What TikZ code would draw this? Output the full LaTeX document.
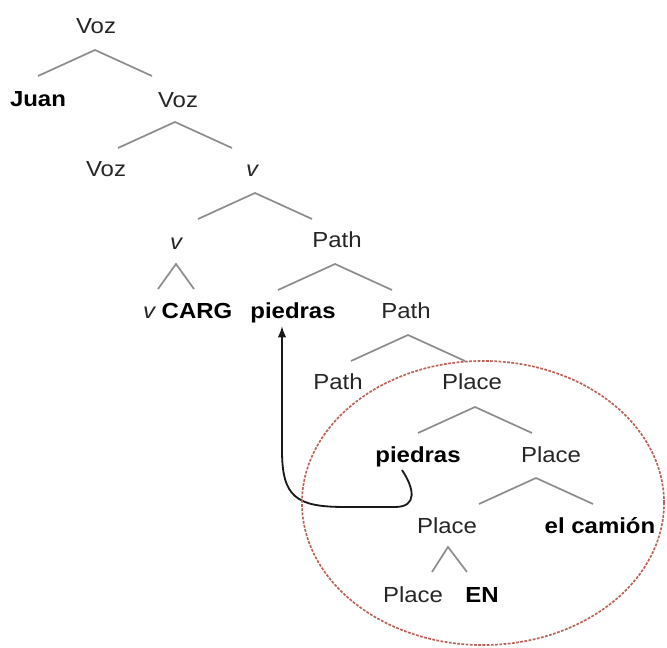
\documentclass[tikz,border=0pt]{standalone}
\usepackage{fontspec}
\setmainfont[FakeStretch=1.1]{Liberation Sans}
\usetikzlibrary{arrows.meta}

\begin{document}
\begin{tikzpicture}[x=0.025cm, y=-0.025cm,
    cat/.style={text=black!85, font=\fontsize{15.5}{18}\selectfont, inner sep=0pt, text height=14pt, text depth=3pt},
    word/.style={cat, text=black, font=\fontsize{15.5}{18}\selectfont\bfseries},
    head/.style={cat, font=\fontsize{15.5}{18}\selectfont\itshape},
    branch/.style={draw=gray!90, line width=1.2pt},
    move/.style={draw=black!90, line width=1.3pt, -{Latex[length=8pt, width=6pt]}},
    zone/.style={draw={rgb,255:red,185;green,100;blue,90}, line width=1.2pt, dash pattern=on 2pt off 1pt}
]
    \useasboundingbox (0,0) rectangle (667,648);

    % Upper part of the tree
    \node[cat] (voz1) at (96,26) {Voz};
    \node[word] (juan) at (38,99) {Juan};
    \node[cat] (voz2) at (178,100) {Voz};
    \node[cat] (voz3) at (106,169) {Voz};
    \node[head] (v1) at (252,169) {v};
    \node[head] (v2) at (176,242) {v};
    \node[cat] (path1) at (337,240) {Path};
    \node[head] (vhd) at (149,311) {v};
    \node[word] (carg) at (197,311) {CARG};
    \node[word] (pie1) at (293,311) {piedras};
    \node[cat] (path2) at (406,311) {Path};
    \node[cat] (path3) at (338,382) {Path};

    % Place domain
    \node[cat] (place1) at (472,382) {Place};
    \node[word] (pie2) at (418,455) {piedras};
    \node[cat] (place2) at (551,455) {Place};
    \node[cat] (place3) at (447,526) {Place};
    \node[word] (camion) at (600,526) {el camión};
    \node[cat] (place4) at (413,595) {Place};
    \node[word] (en) at (482,595) {EN};

    % Branches
    \coordinate (a1) at (95,50);
    \coordinate (a2) at (175,122);
    \coordinate (a3) at (255,193);
    \coordinate (a4) at (176,264);
    \coordinate (a5) at (335,264);
    \coordinate (a6) at (408,335);
    \coordinate (a7) at (475,407);
    \coordinate (a8) at (536,478);
    \coordinate (a9) at (448,547);
    \foreach \a in {a1,a2,a3,a5,a6,a7,a8}
        \draw[branch] (\a) +(-57,26) -- (\a) -- +(57,26);
    \draw[branch] (a4) +(-18,25) -- (a4) -- +(18,25);
    \draw[branch] (a9) +(-16,25) -- (a9) -- +(19,25);

    % Movement of piedras
    \coordinate (bend) at (345,507);
    \draw[move] ([xshift=-0.4cm, yshift=-2pt]pie2.south) .. controls (414,488) and (418,507) .. (395,507)
        -- (bend) .. controls (296,507) and (282,497) .. (282,450) -- ([xshift=-0.275cm, yshift=-2pt]pie1.south);

    % Domain ellipse
    \draw[zone] (483,503) ellipse [x radius=4.525cm, y radius=3.55cm];

\end{tikzpicture}
\end{document}
